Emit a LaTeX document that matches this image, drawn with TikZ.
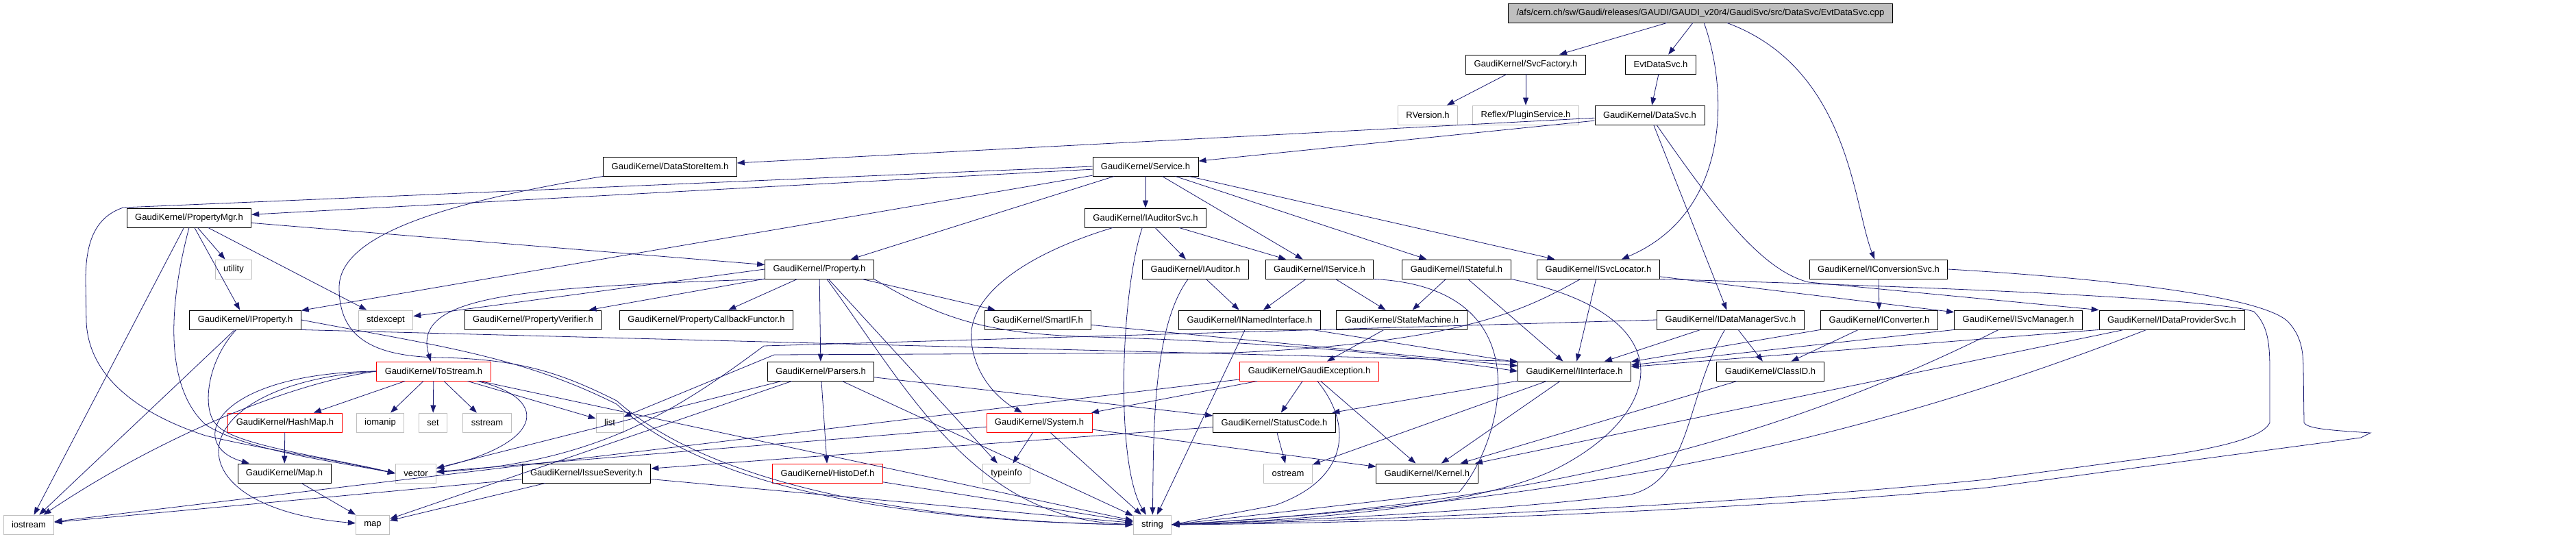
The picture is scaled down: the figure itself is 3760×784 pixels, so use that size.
\documentclass[tikz,border=0pt]{standalone}
\usepackage{fontspec}
\setmainfont{Liberation Sans}
\usetikzlibrary{arrows.meta}

\definecolor{edgeblue}{HTML}{191970}
\definecolor{extgray}{HTML}{BFBFBF}

\tikzset{
  hdr/.style={draw=black, line width=0.9pt, fill=white, inner xsep=12pt,
    inner ysep=0pt, minimum height=28pt, font=\fontsize{13}{15}\selectfont},
  sysh/.style={hdr, draw=extgray},
  parth/.style={hdr, draw=red},
  rooth/.style={hdr, fill=extgray},
  inc/.style={draw=edgeblue, line width=0.8pt, -{Triangle[length=11pt,width=8pt]}}
}

\begin{document}
\begin{tikzpicture}[x=1pt,y=-1pt]
\useasboundingbox (0,0) rectangle (3760,784);

% rows 0-3
\node[rooth] (top) at (2482,19) {/afs/cern.ch/sw/Gaudi/releases/GAUDI/GAUDI\_v20r4/GaudiSvc/src/DataSvc/EvtDataSvc.cpp};
\node[hdr] (svcfactory) at (2227,94) {GaudiKernel/SvcFactory.h};
\node[hdr] (evtdatasvch) at (2424,94) {EvtDataSvc.h};
\node[sysh] (rversion) at (2084,168) {RVersion.h};
\node[sysh] (pluginservice) at (2227,168) {Reflex/PluginService.h};
\node[hdr] (datasvc) at (2408,168) {GaudiKernel/DataSvc.h};
\node[hdr] (datastoreitem) at (978,243) {GaudiKernel/DataStoreItem.h};
\node[hdr] (service) at (1672,243) {GaudiKernel/Service.h};

% rows 4-6
\node[hdr] (propertymgr) at (276,318) {GaudiKernel/PropertyMgr.h};
\node[hdr] (iauditorsvc) at (1672,318) {GaudiKernel/IAuditorSvc.h};
\node[sysh] (utility) at (341,393) {utility};
\node[hdr] (property) at (1196,393) {GaudiKernel/Property.h};
\node[hdr] (iauditor) at (1745,393) {GaudiKernel/IAuditor.h};
\node[hdr] (iservice) at (1926,393) {GaudiKernel/IService.h};
\node[hdr] (istateful) at (2126,393) {GaudiKernel/IStateful.h};
\node[hdr] (isvclocator) at (2333,393) {GaudiKernel/ISvcLocator.h};
\node[hdr] (iconversionsvc) at (2742,393) {GaudiKernel/IConversionSvc.h};
\node[hdr] (iproperty) at (358,467) {GaudiKernel/IProperty.h};
\node[sysh] (stdexcept) at (563,467) {stdexcept};
\node[hdr] (propertyverifier) at (778,467) {GaudiKernel/PropertyVerifier.h};
\node[hdr] (propertycallbackfunctor) at (1031,467) {GaudiKernel/PropertyCallbackFunctor.h};
\node[hdr] (smartif) at (1515,467) {GaudiKernel/SmartIF.h};
\node[hdr] (inamedinterface) at (1824,467) {GaudiKernel/INamedInterface.h};
\node[hdr] (statemachine) at (2046,467) {GaudiKernel/StateMachine.h};
\node[hdr] (idatamanagersvc) at (2526,467) {GaudiKernel/IDataManagerSvc.h};
\node[hdr] (iconverter) at (2743,467) {GaudiKernel/IConverter.h};
\node[hdr] (isvcmanager) at (2946,467) {GaudiKernel/ISvcManager.h};
\node[hdr] (idataprovidersvc) at (3170,467) {GaudiKernel/IDataProviderSvc.h};

% rows 7-10
\node[parth] (tostream) at (633,542) {GaudiKernel/ToStream.h};
\node[hdr] (parsers) at (1198,542) {GaudiKernel/Parsers.h};
\node[parth] (gaudiexception) at (1911,542) {GaudiKernel/GaudiException.h};
\node[hdr] (iinterface) at (2298,542) {GaudiKernel/IInterface.h};
\node[hdr] (classid) at (2584,542) {GaudiKernel/ClassID.h};
\node[parth] (hashmap) at (416,617) {GaudiKernel/HashMap.h};
\node[sysh] (iomanip) at (555,617) {iomanip};
\node[sysh] (set) at (632,617) {set};
\node[sysh] (sstream) at (711,617) {sstream};
\node[sysh] (list) at (890,617) {list};
\node[parth] (system) at (1517,617) {GaudiKernel/System.h};
\node[hdr] (statuscode) at (1860,617) {GaudiKernel/StatusCode.h};
\node[hdr] (imap) at (415,691) {GaudiKernel/Map.h};
\node[sysh] (vector) at (607,691) {vector};
\node[hdr] (issueseverity) at (856,691) {GaudiKernel/IssueSeverity.h};
\node[parth] (histodef) at (1208,691) {GaudiKernel/HistoDef.h};
\node[sysh] (typeinfo) at (1469,691) {typeinfo};
\node[sysh] (ostream) at (1880,691) {ostream};
\node[hdr] (kernel) at (2083,691) {GaudiKernel/Kernel.h};
\node[sysh] (iostream) at (42,766) {iostream};
\node[sysh] (map) at (544,766) {map};
\node[sysh] (string) at (1682,766) {string};

% straight includes
\foreach \a/\b in {top/svcfactory, top/evtdatasvch,
  svcfactory/rversion, svcfactory/pluginservice, evtdatasvch/datasvc,
  datasvc/datastoreitem, datasvc/service, datasvc/idatamanagersvc,
  service/propertymgr, service/iproperty, service/property, service/iauditorsvc,
  service/iservice, service/istateful, service/isvclocator,
  propertymgr/iostream, propertymgr/iproperty, propertymgr/utility,
  propertymgr/stdexcept, propertymgr/property,
  iauditorsvc/iauditor, iauditorsvc/iservice,
  property.west/stdexcept, property/propertyverifier, property/propertycallbackfunctor,
  property/parsers, property/smartif, property/typeinfo,
  iauditor/inamedinterface, iservice/inamedinterface, iservice/statemachine,
  istateful/statemachine, istateful/iinterface,
  isvclocator/iinterface, isvclocator/isvcmanager, iconversionsvc/iconverter,
  iproperty/iostream, iproperty.south east/iinterface.north west,
  smartif/iinterface, inamedinterface/iinterface, inamedinterface/string,
  statemachine/gaudiexception,
  idatamanagersvc/iinterface, idatamanagersvc/classid,
  iconverter/iinterface, iconverter/classid,
  isvcmanager.south west/iinterface,
  idataprovidersvc.south west/iinterface, idataprovidersvc/kernel,
  tostream/hashmap, tostream/iomanip, tostream/set, tostream/sstream,
  tostream/list, tostream/string,
  parsers/statuscode, parsers/histodef, parsers/vector, parsers/map, parsers/string,
  gaudiexception/statuscode, gaudiexception/kernel, gaudiexception/system,
  gaudiexception/iostream,
  iinterface/kernel, iinterface/statuscode, iinterface/ostream,
  classid/kernel, hashmap/imap, imap/map,
  system/typeinfo, system/string, system/kernel, system/vector,
  statuscode/ostream, statuscode/issueseverity,
  issueseverity/iostream, issueseverity/map, issueseverity/string,
  histodef/string}
  \draw[inc] (\a) -- (\b);

% routed includes
\draw[inc] (top) .. controls (2522,130) and (2528,310) .. (isvclocator);
\draw[inc] (top) .. controls (2700,100) and (2705,300) .. (iconversionsvc);
\draw[inc] (datasvc) .. controls (2500,300) and (2570,395) .. (2640,412) -- (idataprovidersvc.north west);
\draw[inc] (datastoreitem.south west) .. controls (620,300) and (495,350) .. (495,420)
  .. controls (495,490) and (540,520) .. (640,522) .. controls (760,524) and (820,545) .. (900,585)
  .. controls (1030,700) and (1300,760) .. (string.west);
\draw[inc] (service.west) -- (180,303) .. controls (135,318) and (125,360) .. (125,410) -- (126,470)
  .. controls (130,560) and (220,610) .. (300,636) .. controls (380,655) and (470,668) .. (vector.west);
\draw[inc] (propertymgr.south) .. controls (250,430) and (235,560) .. (300,620)
  .. controls (360,658) and (480,672) .. (vector.west);
\draw[inc] (iauditorsvc) .. controls (1500,370) and (1410,430) .. (1418,500)
  .. controls (1425,560) and (1470,590) .. (system);
\draw[inc] (iauditorsvc) .. controls (1635,430) and (1628,680) .. (string);
\draw[inc] (iauditor) .. controls (1680,480) and (1684,650) .. (string);
\draw[inc] (property.south west) .. controls (760,420) and (600,430) .. (tostream);
\draw[inc] (property) .. controls (1320,560) and (1420,760) .. (string);
\draw[inc] (property.south east) .. controls (1380,470) and (1450,488) .. (1600,492)
  .. controls (1800,498) and (2000,510) .. (iinterface.west);
\draw[inc] (iservice.south east) .. controls (2260,420) and (2190,650) .. (2130,718) -- (string.east);
\draw[inc] (istateful.south east) .. controls (2460,460) and (2430,600) .. (2280,680)
  .. controls (2170,740) and (1900,760) .. (string.east);
\draw[inc] (isvclocator) .. controls (2230,450) and (2140,500) .. (1800,515) -- (1130,518) -- (list);
\draw[inc] (isvclocator.south east) .. controls (2800,418) and (3230,435) .. (3290,455)
  .. controls (3310,475) and (3313,500) .. (3313,540) -- (3313,617)
  .. controls (3305,635) and (3260,650) .. (3170,664) -- (2900,700)
  .. controls (2500,740) and (2000,760) .. (string.east);
\draw[inc] (iconversionsvc.east) .. controls (3050,405) and (3300,430) .. (3340,470)
  .. controls (3358,490) and (3362,510) .. (3362,540) -- (3363,617)
  .. controls (3368,626) and (3400,628) .. (3460,632) -- (3446,639) -- (2900,712)
  .. controls (2500,748) and (2000,764) .. (string.east);
\draw[inc] (iproperty) .. controls (300,530) and (295,600) .. (316,620)
  .. controls (340,650) and (480,668) .. (vector.west);
\draw[inc] (iproperty.east) .. controls (640,505) and (760,520) .. (900,590)
  .. controls (1030,710) and (1300,760) .. (string.west);
\draw[inc] (idatamanagersvc.west) -- (1115,505) .. controls (1000,590) and (880,675) .. (vector);
\draw[inc] (idatamanagersvc) .. controls (2460,580) and (2470,700) .. (2380,722)
  .. controls (2200,745) and (1900,760) .. (string.east);
\draw[inc] (isvcmanager) .. controls (2600,640) and (2250,735) .. (string.east);
\draw[inc] (idataprovidersvc) .. controls (2700,650) and (2300,730) .. (string.east);
\draw[inc] (tostream) .. controls (800,580) and (800,645) .. (vector);
\draw[inc] (tostream.west) .. controls (420,560) and (230,640) .. (iostream);
\draw[inc] (tostream.west) .. controls (310,545) and (270,650) .. (imap);
\draw[inc] (tostream.west) .. controls (260,560) and (240,740) .. (map);
\draw[inc] (gaudiexception) .. controls (1975,620) and (1970,700) .. (1860,738) -- (string.east);
\end{tikzpicture}
\end{document}
